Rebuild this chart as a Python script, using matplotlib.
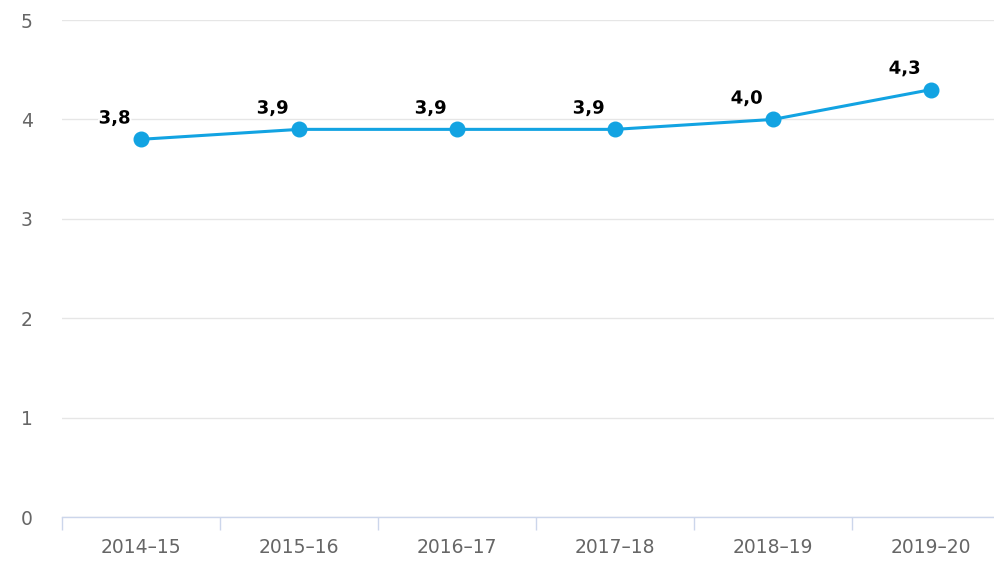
import matplotlib
matplotlib.use('Agg')
import matplotlib.pyplot as plt
import matplotlib.patheffects as pe
from matplotlib.ticker import FixedLocator, NullFormatter

seasons = ['2014–15', '2015–16', '2016–17', '2017–18', '2018–19', '2019–20']
values = [3.8, 3.9, 3.9, 3.9, 4.0, 4.3]
yticks = [0, 1, 2, 3, 4, 5]

LINE = '#12a3e2'
GRID = '#e6e6e6'
AXIS = '#ccd6eb'
LABEL = '#666666'

fig = plt.figure(figsize=(9.95, 5.61), dpi=100)
fig.patch.set_facecolor('white')
ax = fig.add_axes([0.0623, 0.0784, 0.9528, 0.8859])

x = list(range(len(seasons)))
ax.plot(x, values, color=LINE, lw=2.2, marker='o', ms=10.5, zorder=3)

for xi, v in zip(x, values):
    ax.annotate(f'{v:.1f}'.replace('.', ','), (xi, v), xytext=(-19, 15),
                textcoords='offset points', ha='center', va='center',
                fontsize=13, fontweight='bold', color='black',
                path_effects=[pe.withStroke(linewidth=3, foreground='white')])

ax.set_xlim(-0.5, len(seasons) - 0.5)
ax.set_ylim(0, 5)
ax.set_yticks(yticks)
ax.set_yticklabels([str(t) for t in yticks])
ax.set_xticks(x)
ax.set_xticklabels(seasons)
ax.xaxis.set_minor_locator(FixedLocator([i - 0.5 for i in range(len(seasons) + 1)]))
ax.xaxis.set_minor_formatter(NullFormatter())

ax.tick_params(axis='x', which='major', length=0, pad=15, labelsize=13.5, labelcolor=LABEL)
ax.tick_params(axis='x', which='minor', length=9, width=1, color=AXIS, direction='out')
ax.tick_params(axis='y', length=0, pad=21, labelsize=13.5, labelcolor=LABEL)

ax.grid(axis='y', color=GRID, lw=1)
ax.set_axisbelow(True)
for s in ['top', 'right', 'left']:
    ax.spines[s].set_visible(False)
ax.spines['bottom'].set_color(AXIS)
ax.spines['bottom'].set_linewidth(1)
ax.set_facecolor('white')

fig.savefig('out.png', dpi=100, facecolor='white')
